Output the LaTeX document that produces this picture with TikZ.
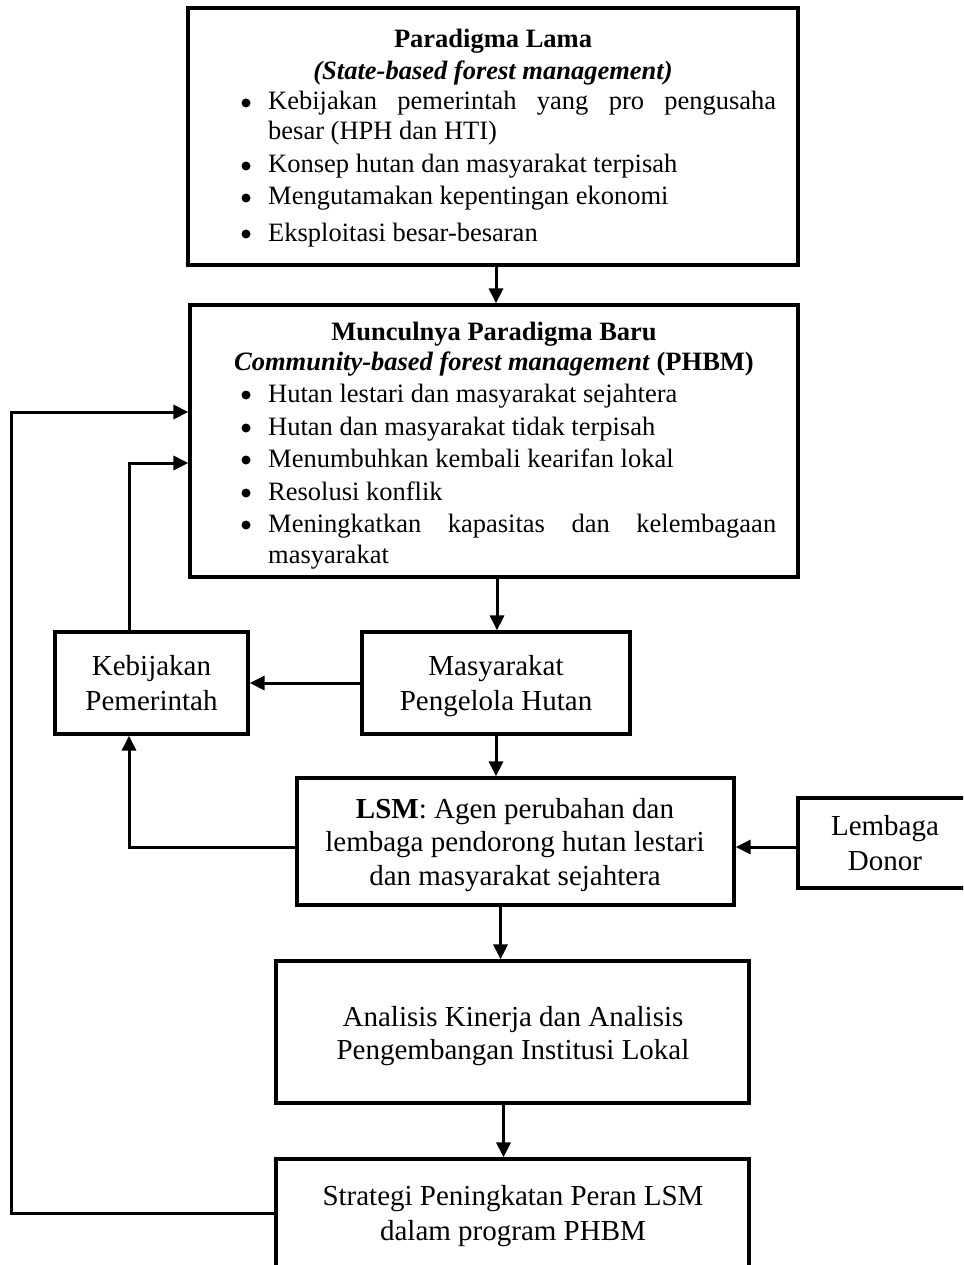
\documentclass[tikz,border=0pt]{standalone}
\usepackage{fontspec}
\setmainfont{Liberation Serif}
\usetikzlibrary{arrows.meta,calc}
\begin{document}
\begin{tikzpicture}[x=1pt,y=-1pt,
  box/.style={draw,line width=3.2pt,inner sep=0pt,rectangle},
  sm/.style={font=\fontsize{26.5}{32}\selectfont,inner sep=0pt,anchor=base},
  smw/.style={font=\fontsize{26.5}{32}\selectfont,inner sep=0pt,anchor=base west},
  lg/.style={font=\fontsize{29}{34}\selectfont,inner sep=0pt,anchor=base},
  arr/.style={line width=3pt,-{Triangle[length=15pt,width=14pt]}},
  dot/.style={circle,fill,inner sep=0pt,minimum size=9pt}]
\useasboundingbox (0,0) rectangle (963,1265);
\fill[white] (0,0) rectangle (963,1265);
\clip (0,0) rectangle (963,1265);

% boxes
\node[box,minimum width=610pt,minimum height=257pt] (b1) at (493,136.5) {};
\node[box,minimum width=608pt,minimum height=272pt] (b2) at (494,441) {};
\node[box,minimum width=193pt,minimum height=102pt] (keb) at (151.5,683) {};
\node[box,minimum width=268pt,minimum height=102pt] (mas) at (496,683) {};
\node[box,minimum width=437pt,minimum height=127pt] (lsm) at (515.5,841.5) {};
\node[box,minimum width=174pt,minimum height=90pt] (don) at (885,843) {};
\node[box,minimum width=473pt,minimum height=142pt] (ana) at (512.5,1032) {};
\node[box,minimum width=473pt,minimum height=109pt] (str) at (512.5,1213.5) {};

% box 1 text
\node[sm] (t1a) at (493,48) {\textbf{Paradigma Lama}};
\node[sm] (t1b) at (493,80) {\textbf{\textit{(State-based forest management)}}};
\node[dot] (d11) at (246,103) {};
\node[smw] (t11) at (268,110) {\hbox to 508pt{Kebijakan\hfill pemerintah\hfill yang\hfill pro\hfill pengusaha}};
\node[smw] (t12) at (268,140) {besar (HPH dan HTI)};
\node[dot] (d12) at (246,166) {};
\node[smw] (t13) at (268,173) {Konsep hutan dan masyarakat terpisah};
\node[dot] (d13) at (246,198) {};
\node[smw] (t14) at (268,205) {Mengutamakan kepentingan ekonomi};
\node[dot] (d14) at (246,234) {};
\node[smw] (t15) at (268,241) {Eksploitasi besar-besaran};

% box 2 text
\node[sm] (t2a) at (494,340) {\textbf{Munculnya Paradigma Baru}};
\node[sm] (t2b) at (494,370) {\textbf{\textit{Community-based forest management}} \textbf{(PHBM)}};
\node[dot] (d21) at (246,395) {};
\node[smw] (t21) at (268,402) {Hutan lestari dan masyarakat sejahtera};
\node[dot] (d22) at (246,428) {};
\node[smw] (t22) at (268,435) {Hutan dan masyarakat tidak terpisah};
\node[dot] (d23) at (246,460) {};
\node[smw] (t23) at (268,467) {Menumbuhkan kembali kearifan lokal};
\node[dot] (d24) at (246,493) {};
\node[smw] (t24) at (268,500) {Resolusi konflik};
\node[dot] (d25) at (246,525) {};
\node[smw] (t25) at (268,532) {\hbox to 508pt{Meningkatkan\hfill kapasitas\hfill dan\hfill kelembagaan}};
\node[smw] (t26) at (268,563) {masyarakat};

% small boxes text
\node[lg] (tk1) at (151.5,675) {Kebijakan};
\node[lg] (tk2) at (151.5,710) {Pemerintah};
\node[lg] (tm1) at (496,675) {Masyarakat};
\node[lg] (tm2) at (496,710) {Pengelola Hutan};
\node[lg] (tl1) at (515,818) {\textbf{LSM}: Agen perubahan dan};
\node[lg] (tl2) at (515,851) {lembaga pendorong hutan lestari};
\node[lg] (tl3) at (515,885) {dan masyarakat sejahtera};
\node[lg] (td1) at (885,835) {Lembaga};
\node[lg] (td2) at (885,870) {Donor};
\node[lg] (ta1) at (513,1026) {Analisis Kinerja dan Analisis};
\node[lg] (ta2) at (513,1059) {Pengembangan Institusi Lokal};
\node[lg] (ts1) at (513,1205) {Strategi Peningkatan Peran LSM};
\node[lg] (ts2) at (513,1240) {dalam program PHBM};

% connectors
\draw[arr] ([xshift=3pt]b1.south) -- ([xshift=3pt]b1.south |- b2.north);
\draw[arr] ([xshift=3pt]b2.south) -- ([xshift=3pt]b2.south |- mas.north);
\draw[arr] (mas.west) -- (keb.east);
\draw[arr] (mas.south) -- (mas.south |- lsm.north);
\draw[arr] ([xshift=-15pt]lsm.south) -- ([xshift=-15pt]lsm.south |- ana.north);
\draw[arr] ([xshift=-9pt]ana.south) -- ([xshift=-9pt]ana.south |- str.north);
\draw[arr] ([yshift=-4pt]don.west) -- ([yshift=-4pt]don.west -| lsm.east);
\draw[arr] ([yshift=-5.5pt]lsm.west) -| ([xshift=-22.5pt]keb.south);
\draw[arr] ([xshift=-22.5pt]keb.north) |- ([yshift=-22pt]b2.west);
\coordinate (cl) at (11,412);
\draw[arr] (str.west) -| (cl) -- (cl -| b2.west);
\end{tikzpicture}
\end{document}
